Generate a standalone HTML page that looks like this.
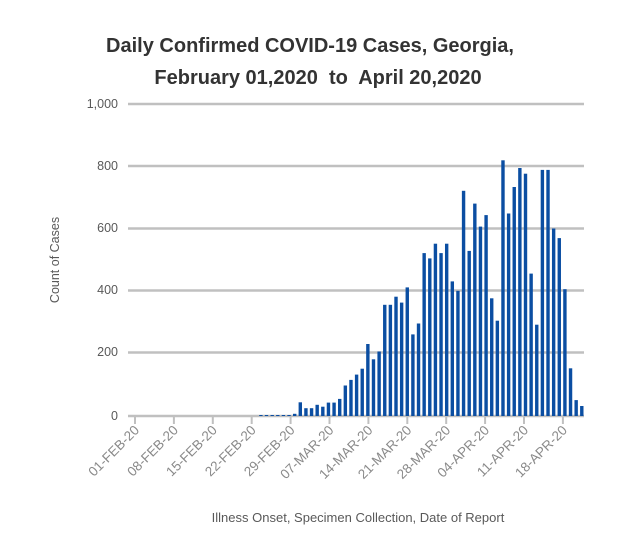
<!DOCTYPE html>
<html><head><meta charset="utf-8"><style>
body{margin:0;background:#fff;}
svg text{font-family:"Liberation Sans",sans-serif;}
</style></head><body>
<svg width="640" height="538" xmlns="http://www.w3.org/2000/svg">
<text x="310" y="52" text-anchor="middle" font-size="20" font-weight="bold" fill="#333">Daily Confirmed COVID-19 Cases, Georgia,</text>
<text x="318" y="84" text-anchor="middle" font-size="20" font-weight="bold" fill="#333">February 01,2020&#160; to&#160; April 20,2020</text>
<g stroke="#c0c0c0" stroke-width="2.5">
<line x1="128" x2="584" y1="104" y2="104"/>
<line x1="128" x2="584" y1="166" y2="166"/>
<line x1="128" x2="584" y1="228.5" y2="228.5"/>
<line x1="128" x2="584" y1="290.5" y2="290.5"/>
<line x1="128" x2="584" y1="352.5" y2="352.5"/>
<line x1="128" x2="584" y1="416" y2="416"/>
</g>
<g fill="#595959" font-size="12.5" text-anchor="end">
<text x="118" y="108">1,000</text><text x="118" y="170">800</text><text x="118" y="232">600</text>
<text x="118" y="294">400</text><text x="118" y="356">200</text><text x="118" y="420">0</text>
</g>
<text transform="translate(59,260) rotate(-90)" text-anchor="middle" font-size="12.5" fill="#595959">Count of Cases</text>
<g stroke="#c0c0c0" stroke-width="2">
<line x1="135" x2="135" y1="416" y2="424"/>
<line x1="173.9" x2="173.9" y1="416" y2="424"/>
<line x1="212.8" x2="212.8" y1="416" y2="424"/>
<line x1="251.7" x2="251.7" y1="416" y2="424"/>
<line x1="290.6" x2="290.6" y1="416" y2="424"/>
<line x1="329.5" x2="329.5" y1="416" y2="424"/>
<line x1="368.4" x2="368.4" y1="416" y2="424"/>
<line x1="407.3" x2="407.3" y1="416" y2="424"/>
<line x1="446.2" x2="446.2" y1="416" y2="424"/>
<line x1="485.1" x2="485.1" y1="416" y2="424"/>
<line x1="524" x2="524" y1="416" y2="424"/>
<line x1="562.9" x2="562.9" y1="416" y2="424"/>
</g>
<g fill="#0b4ea2">
<rect x="259.2" y="415" width="3.4" height="1"/>
<rect x="264.8" y="415" width="3.4" height="1"/>
<rect x="270.5" y="415" width="3.4" height="1"/>
<rect x="276.1" y="415" width="3.4" height="1"/>
<rect x="281.7" y="415" width="3.4" height="1"/>
<rect x="287.3" y="415" width="3.4" height="1"/>
<rect x="293.0" y="413.8" width="3.4" height="2.2"/>
<rect x="298.6" y="402.3" width="3.4" height="13.7"/>
<rect x="304.23" y="408.2" width="3.4" height="7.8"/>
<rect x="309.86" y="408.2" width="3.4" height="7.8"/>
<rect x="315.49" y="404.8" width="3.4" height="11.2"/>
<rect x="321.12" y="406.7" width="3.4" height="9.3"/>
<rect x="326.75" y="402.6" width="3.4" height="13.4"/>
<rect x="332.38" y="402.6" width="3.4" height="13.4"/>
<rect x="338.01" y="398.9" width="3.4" height="17.1"/>
<rect x="343.64" y="385.5" width="3.4" height="30.5"/>
<rect x="349.27" y="379.9" width="3.4" height="36.1"/>
<rect x="354.9" y="374.6" width="3.4" height="41.4"/>
<rect x="360.53" y="368.7" width="3.4" height="47.3"/>
<rect x="366.16" y="344.0" width="3.4" height="72.0"/>
<rect x="371.79" y="359.3" width="3.4" height="56.7"/>
<rect x="377.42" y="351.5" width="3.4" height="64.5"/>
<rect x="383.05" y="304.8" width="3.4" height="111.2"/>
<rect x="388.68" y="304.8" width="3.4" height="111.2"/>
<rect x="394.31" y="296.7" width="3.4" height="119.3"/>
<rect x="399.94" y="302.6" width="3.4" height="113.4"/>
<rect x="405.57" y="287.4" width="3.4" height="128.6"/>
<rect x="411.2" y="334.4" width="3.4" height="81.6"/>
<rect x="416.83" y="323.5" width="3.4" height="92.5"/>
<rect x="422.46" y="253.1" width="3.4" height="162.9"/>
<rect x="428.09" y="258.4" width="3.4" height="157.6"/>
<rect x="433.72" y="243.7" width="3.4" height="172.3"/>
<rect x="439.35" y="253.1" width="3.4" height="162.9"/>
<rect x="444.98" y="243.7" width="3.4" height="172.3"/>
<rect x="450.61" y="281.4" width="3.4" height="134.6"/>
<rect x="456.24" y="290.8" width="3.4" height="125.2"/>
<rect x="461.87" y="190.8" width="3.4" height="225.2"/>
<rect x="467.5" y="250.9" width="3.4" height="165.1"/>
<rect x="473.13" y="203.6" width="3.4" height="212.4"/>
<rect x="478.76" y="226.6" width="3.4" height="189.4"/>
<rect x="484.39" y="215.1" width="3.4" height="200.9"/>
<rect x="490.02" y="298.3" width="3.4" height="117.7"/>
<rect x="495.65" y="320.7" width="3.4" height="95.3"/>
<rect x="501.28" y="160.3" width="3.4" height="255.7"/>
<rect x="506.91" y="213.5" width="3.4" height="202.5"/>
<rect x="512.54" y="187.0" width="3.4" height="229.0"/>
<rect x="518.17" y="168.0" width="3.4" height="248.0"/>
<rect x="523.8" y="173.7" width="3.4" height="242.3"/>
<rect x="529.43" y="273.6" width="3.4" height="142.4"/>
<rect x="535.06" y="324.7" width="3.4" height="91.3"/>
<rect x="540.69" y="169.9" width="3.4" height="246.1"/>
<rect x="546.32" y="169.9" width="3.4" height="246.1"/>
<rect x="551.95" y="228.5" width="3.4" height="187.5"/>
<rect x="557.58" y="238.1" width="3.4" height="177.9"/>
<rect x="563.21" y="289.2" width="3.4" height="126.8"/>
<rect x="568.84" y="368.3" width="3.4" height="47.7"/>
<rect x="574.47" y="400.1" width="3.4" height="15.9"/>
<rect x="580.1" y="406.0" width="3.4" height="10.0"/>
</g>
<g fill="#8a8a8a" font-size="13.5" text-anchor="end">
<text transform="translate(140,431) rotate(-45)">01-FEB-20</text>
<text transform="translate(178.9,431) rotate(-45)">08-FEB-20</text>
<text transform="translate(217.8,431) rotate(-45)">15-FEB-20</text>
<text transform="translate(256.7,431) rotate(-45)">22-FEB-20</text>
<text transform="translate(295.6,431) rotate(-45)">29-FEB-20</text>
<text transform="translate(334.5,431) rotate(-45)">07-MAR-20</text>
<text transform="translate(373.4,431) rotate(-45)">14-MAR-20</text>
<text transform="translate(412.3,431) rotate(-45)">21-MAR-20</text>
<text transform="translate(451.2,431) rotate(-45)">28-MAR-20</text>
<text transform="translate(490.1,431) rotate(-45)">04-APR-20</text>
<text transform="translate(529,431) rotate(-45)">11-APR-20</text>
<text transform="translate(567.9,431) rotate(-45)">18-APR-20</text>
</g>
<text x="358" y="522" text-anchor="middle" font-size="13" fill="#595959">Illness Onset, Specimen Collection, Date of Report</text>
</svg>
</body></html>
